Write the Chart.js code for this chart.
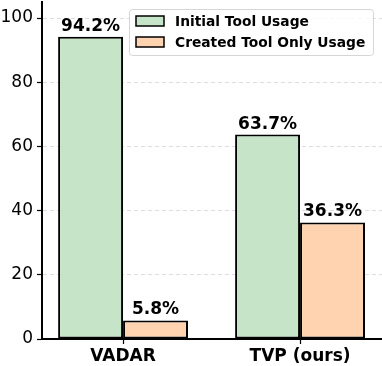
<!DOCTYPE html>
<html lang="en">
<head>
    <meta charset="UTF-8">
    <title>Tool Usage</title>
    <script src="https://cdn.jsdelivr.net/npm/chart.js"></script>
    <style>
        body {
            margin: 0;
            padding: 0;
            background: #fff;
        }
    </style>
</head>
<body>
    <canvas id="usageChart" width="382" height="366"></canvas>

    <script>
        // data
        const categories = ['VADAR', 'TVP (ours)'];
        const seriesNames = ['Initial Tool Usage', 'Created Tool Only Usage'];
        const initialUsage = [94.2, 63.7];
        const createdOnlyUsage = [5.8, 36.3];
        const yTicks = [0, 20, 40, 60, 80, 100];

        const colors = ['#c6e5c8', '#ffd3b0'];
        const FONT = "'DejaVu Sans', sans-serif";

        // bars sit on a linear x scale so the outer margins match the original
        const toPoints = vals => vals.map((v, i) => ({ x: i, y: v }));

        // value labels above every bar
        const valueLabels = {
            id: 'valueLabels',
            afterDatasetsDraw(chart) {
                const ctx = chart.ctx;
                ctx.save();
                ctx.font = 'bold 17px ' + FONT;
                ctx.fillStyle = '#000';
                ctx.textAlign = 'center';
                ctx.textBaseline = 'alphabetic';
                chart.data.datasets.forEach((ds, di) => {
                    chart.getDatasetMeta(di).data.forEach((bar, i) => {
                        ctx.fillText(ds.data[i].y.toFixed(1) + '%', bar.x, bar.y - 6);
                    });
                });
                ctx.restore();
            }
        };

        // matplotlib style legend in the upper right corner
        const boxLegend = {
            id: 'boxLegend',
            afterDraw(chart) {
                const ctx = chart.ctx;
                const area = chart.chartArea;
                const x0 = area.right - 253, y0 = area.top + 7, w = 244, h = 46;
                ctx.save();
                ctx.beginPath();
                ctx.roundRect(x0 + 0.5, y0 + 0.5, w, h, 3);
                ctx.fillStyle = 'rgba(255,255,255,0.8)';
                ctx.fill();
                ctx.strokeStyle = '#d6d6d6';
                ctx.lineWidth = 1;
                ctx.stroke();

                ctx.font = 'bold 13.8px ' + FONT;
                ctx.textBaseline = 'middle';
                chart.data.datasets.forEach((ds, i) => {
                    const cy = y0 + 12 + i * 21;
                    ctx.fillStyle = ds.backgroundColor;
                    ctx.fillRect(x0 + 7, cy - 5, 28, 10);
                    ctx.strokeStyle = '#000';
                    ctx.lineWidth = 1.5;
                    ctx.strokeRect(x0 + 7, cy - 5, 28, 10);
                    ctx.fillStyle = '#000';
                    ctx.fillText(ds.label, x0 + 46, cy + 1);
                });
                ctx.restore();
            }
        };

        const ctx = document.getElementById('usageChart').getContext('2d');

        new Chart(ctx, {
            type: 'bar',
            data: {
                datasets: [
                    {
                        label: seriesNames[0],
                        data: toPoints(initialUsage),
                        backgroundColor: colors[0],
                        borderColor: '#000',
                        borderWidth: 2,
                        borderSkipped: false
                    },
                    {
                        label: seriesNames[1],
                        data: toPoints(createdOnlyUsage),
                        backgroundColor: colors[1],
                        borderColor: '#000',
                        borderWidth: 2,
                        borderSkipped: false
                    }
                ]
            },
            options: {
                responsive: false,
                animation: false,
                devicePixelRatio: 1,
                categoryPercentage: 0.734,
                barPercentage: 1,
                layout: { padding: { top: 2, right: 0, left: 0, bottom: 0 } },
                plugins: {
                    legend: { display: false },
                    tooltip: { enabled: false }
                },
                scales: {
                    x: {
                        type: 'linear',
                        offset: false,
                        min: -0.458,
                        max: 1.463,
                        afterBuildTicks: scale => {
                            scale.ticks = categories.map((c, i) => ({ value: i }));
                        },
                        afterFit: scale => {
                            scale.height = 27;
                            scale.paddingLeft = 0;
                            scale.paddingRight = 0;
                        },
                        grid: {
                            offset: false,
                            drawOnChartArea: false,
                            drawTicks: true,
                            tickLength: 5,
                            tickColor: '#000',
                            tickWidth: 1.2
                        },
                        border: { display: true, color: '#000', width: 2 },
                        ticks: {
                            callback: v => categories[v],
                            color: '#000',
                            padding: 2,
                            maxRotation: 0,
                            autoSkip: false,
                            font: { family: FONT, size: 17, weight: 'bold' }
                        }
                    },
                    y: {
                        min: 0,
                        max: 105,
                        afterBuildTicks: scale => {
                            scale.ticks = yTicks.map(v => ({ value: v }));
                        },
                        afterFit: scale => {
                            scale.width = 42;
                            scale.paddingTop = 0;
                            scale.paddingBottom = 0;
                        },
                        grid: {
                            color: '#dedede',
                            lineWidth: 1,
                            drawTicks: true,
                            tickLength: 5,
                            tickColor: '#000',
                            tickWidth: 1.2,
                            tickBorderDash: []
                        },
                        border: { display: true, color: '#000', width: 2, dash: [4, 3] },
                        ticks: {
                            color: '#000',
                            padding: 4,
                            font: { family: FONT, size: 17 }
                        }
                    }
                }
            },
            plugins: [valueLabels, boxLegend]
        });
    </script>
</body>
</html>
